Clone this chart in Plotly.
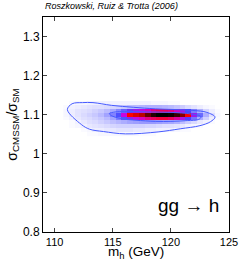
import plotly.graph_objects as go

# Grid of density values
mh_centers = [111.0 + 0.5 * i for i in range(27)]
ratio_centers = [1.05, 1.06, 1.07, 1.08, 1.09, 1.10, 1.11, 1.12, 1.13]

row_105 = [0,0,0,0,0.01,0.01,0.02,0.02,0.02,0.02,0.02,0.02,0.02,0.01,0.01,0.01,0,0,0,0,0,0,0,0,0,0,0]
row_106 = [0,0,0,0.01,0.02,0.04,0.04,0.05,0.05,0.06,0.06,0.06,0.05,0.05,0.04,0.04,0.03,0.03,0.03,0.02,0.01,0.01,0,0,0,0,0]
row_107 = [0,0.01,0.02,0.03,0.05,0.06,0.07,0.08,0.09,0.10,0.10,0.10,0.10,0.10,0.09,0.09,0.08,0.07,0.07,0.06,0.05,0.03,0.02,0.01,0,0,0]
row_108 = [0.0,0.01,0.03,0.05,0.07,0.08,0.10,0.12,0.14,0.16,0.18,0.20,0.21,0.22,0.22,0.22,0.21,0.20,0.19,0.17,0.14,0.11,0.08,0.05,0.03,0.01,0.0]
row_109 = [0.01,0.03,0.05,0.07,0.08,0.10,0.12,0.15,0.20,0.28,0.38,0.48,0.54,0.58,0.62,0.64,0.66,0.66,0.64,0.60,0.52,0.42,0.30,0.18,0.10,0.04,0.01]
row_110 = [0.02,0.04,0.06,0.08,0.10,0.12,0.15,0.20,0.27,0.38,0.55,0.70,0.74,0.78,0.88,0.96,1.0,1.0,0.98,0.93,0.84,0.70,0.50,0.32,0.17,0.07,0.02]
row_111 = [0.02,0.04,0.06,0.07,0.08,0.10,0.12,0.15,0.19,0.26,0.34,0.44,0.50,0.54,0.58,0.62,0.64,0.64,0.62,0.58,0.50,0.40,0.28,0.17,0.09,0.04,0.01]
row_112 = [0.01,0.03,0.04,0.05,0.06,0.07,0.07,0.08,0.09,0.10,0.12,0.14,0.15,0.16,0.17,0.17,0.17,0.16,0.15,0.13,0.11,0.08,0.06,0.04,0.02,0.01,0.0]
row_113 = [0,0.01,0.02,0.02,0.03,0.03,0.03,0.03,0.03,0.03,0.03,0.03,0.03,0.03,0.03,0.02,0.02,0.02,0.01,0.01,0,0,0,0,0,0,0]

density = [row_105, row_106, row_107, row_108, row_109, row_110, row_111, row_112, row_113]

# 95% contour
outer_mh = [111.1, 111.5, 112.4, 113.3, 114.9, 116.8, 118.7, 121.9, 123.1, 123.8, 123.4, 122.5, 120.8, 118.9, 116.1, 114.2, 113.0, 112.3, 111.1]
outer_ratio = [1.113, 1.128, 1.131, 1.131, 1.124, 1.119, 1.115, 1.111, 1.106, 1.094, 1.082, 1.072, 1.064, 1.056, 1.051, 1.057, 1.063, 1.075, 1.113]

# 68% contour
inner_mh = [114.7, 115.2, 116.0, 118.0, 120.0, 121.7, 122.6, 122.4, 121.4, 120.0, 118.7, 117.0, 116.0, 115.0, 114.7]
inner_ratio = [1.103, 1.107, 1.108, 1.107, 1.106, 1.102, 1.095, 1.088, 1.085, 1.083, 1.083, 1.086, 1.089, 1.096, 1.103]

x_ticks = [110, 115, 120, 125]
y_ticks = [0.8, 0.9, 1.0, 1.1, 1.2, 1.3]
y_tick_text = ["0.8", "0.9", "1", "1.1", "1.2", "1.3"]

fig = go.Figure()
fig.add_trace(go.Heatmap(
    x=mh_centers, y=ratio_centers, z=density,
    zmin=0, zmax=1, showscale=False, zsmooth=False,
    colorscale=[[0, "rgb(255,255,255)"], [0.4, "rgb(70,70,255)"],
                [0.56, "rgb(210,0,220)"], [0.7, "rgb(255,0,0)"],
                [1.0, "rgb(0,0,0)"]],
    hoverinfo="skip",
))
line_col = "rgb(70,90,255)"
fig.add_trace(go.Scatter(x=outer_mh, y=outer_ratio, mode="lines",
                         line=dict(color=line_col, width=1, shape="spline"),
                         showlegend=False, hoverinfo="skip"))
fig.add_trace(go.Scatter(x=inner_mh, y=inner_ratio, mode="lines",
                         line=dict(color=line_col, width=1, shape="spline"),
                         showlegend=False, hoverinfo="skip"))

font_family = "Liberation Sans, Arial, sans-serif"
fig.update_layout(
    width=249, height=262,
    margin=dict(l=41, r=11, t=17, b=30),
    paper_bgcolor="white", plot_bgcolor="white",
    font=dict(family=font_family, color="black", size=12),
    showlegend=False,
)
fig.update_xaxes(
    range=[109, 125], tickvals=x_ticks, ticks="inside", ticklen=4,
    mirror="ticks", showline=True, linecolor="black", linewidth=1,
    showgrid=False, zeroline=False, tickfont=dict(size=11),
)
fig.update_yaxes(
    range=[0.8, 1.35], tickvals=y_ticks, ticktext=y_tick_text, ticks="inside",
    ticklen=4, mirror="ticks", showline=True, linecolor="black", linewidth=1,
    showgrid=False, zeroline=False, tickfont=dict(size=12),
    title=dict(text="σ<sub>CMSSM</sub>/σ<sub>SM</sub>", font=dict(size=14), standoff=2),
)
fig.add_annotation(text="m<sub>h</sub> (GeV)", xref="paper", yref="paper",
                   x=0.5, y=0, yshift=-20, xanchor="center", yanchor="middle",
                   showarrow=False, font=dict(size=13.5))
fig.add_annotation(text="<i>Roszkowski, Ruiz &amp; Trotta (2006)</i>",
                   xref="paper", yref="paper", x=0, y=1, yshift=11,
                   xanchor="left", yanchor="middle", showarrow=False,
                   font=dict(size=9))
fig.add_annotation(text="gg → h", xref="x", yref="y", x=124.3, y=0.869,
                   xanchor="right", yanchor="middle", showarrow=False,
                   font=dict(size=19))

fig.write_html("out.html", config={"displayModeBar": False},
               post_script="document.body.style.margin='0px';document.body.style.overflow='hidden';")
